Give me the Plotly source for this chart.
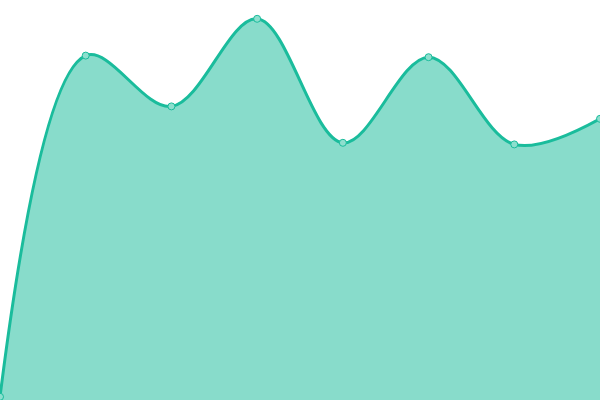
import plotly.graph_objects as go

x_vals = [0, 1, 2, 3, 4, 5, 6, 7]
y_vals = [0.8, 86.1, 73.4, 95.3, 64.3, 85.7, 63.9, 70.3]

fig = go.Figure(go.Scatter(
    x=x_vals, y=y_vals,
    mode='lines+markers',
    line=dict(shape='spline', smoothing=1, color='#1abc9c', width=3),
    fill='tozeroy', fillcolor='rgba(26,188,156,0.52)',
    marker=dict(size=7, color='#8ddfce', line=dict(color='#1abc9c', width=1)),
))

fig.update_layout(
    width=600, height=400,
    margin=dict(l=0, r=0, t=0, b=0),
    paper_bgcolor='white', plot_bgcolor='white',
    showlegend=False,
    xaxis=dict(range=[0, 7], visible=False),
    yaxis=dict(range=[0, 100], visible=False),
)

# page body has an 8px default margin, drop it so the chart fills the window
fig.write_html("out.html", config={'displayModeBar': False},
               post_script="document.body.style.margin='0';")
